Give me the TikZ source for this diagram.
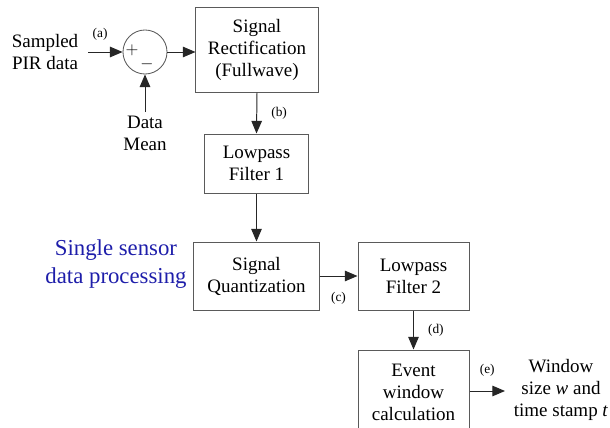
\documentclass[tikz,border=0pt]{standalone}
\usepackage{fontspec}
\setmainfont{Liberation Serif}
\usepackage{xcolor}
\usepackage{tikz}
\usetikzlibrary{arrows.meta}

\definecolor{boxgray}{HTML}{5A5A5A}
\definecolor{titleblue}{HTML}{1E1EAA}

\begin{document}
\begin{tikzpicture}[x=0.025cm, y=-0.025cm,
        block/.style={draw=boxgray, line width=0.7pt, align=center, inner sep=0pt,
            font=\fontsize{13.5}{15.7}\selectfont},
        txt/.style={align=center, inner sep=0pt, font=\fontsize{13.5}{15.7}\selectfont},
        tag/.style={inner sep=0pt, font=\fontsize{9.5}{11}\selectfont},
        flow/.style={-{Triangle[length=9pt, width=7.5pt]}, line width=0.7pt, draw=black!85}]
    \useasboundingbox (0, 0) rectangle (610, 427);
    \clip (0, 0) rectangle (610, 427);

    \node[txt] (pir)  at ( 45,  52) {Sampled\\PIR data};
    \node[txt] (mean) at (145, 133) {Data\\Mean};
    \coordinate (pir-in)  at ( 88,  52);
    \coordinate (mean-in) at (145, 112);
    \node[draw=boxgray, line width=0.6pt, circle, minimum size=1.1cm, inner sep=0pt] (sum) at (145, 52) {};
    \node[inner sep=0pt, font=\fontsize{12}{12}\selectfont] (plus)  at (132, 50) {$+$};
    \node[inner sep=0pt, font=\fontsize{13}{13}\selectfont] (minus) at (147, 64) {$-$};

    \node[block, minimum width=3.05cm,  minimum height=2.1cm]   (rect)  at (257,   50)  {Signal\\Rectification\\(Fullwave)};
    \node[block, minimum width=2.575cm, minimum height=1.475cm] (lpf1)  at (256.5, 163.5) {Lowpass\\Filter 1};
    \node[block, minimum width=3.125cm, minimum height=1.7cm]   (quant) at (256.5, 276) {Signal\\Quantization};
    \node[block, minimum width=2.775cm, minimum height=1.7cm]   (lpf2)  at (413.5, 276) {Lowpass\\Filter 2};
    \node[block, minimum width=2.775cm, minimum height=2.1cm]   (event) at (413.5, 392) {Event\\window\\calculation};
    \node[txt] (result) at (561, 390) {Window\\size \textit{w} and\\time stamp \textit{t}};
    \coordinate (result-in) at (505, 391);

    \node[align=center, inner sep=0pt, text=titleblue, font=\fontsize{16.2}{20}\selectfont]
        (title) at (116, 264) {Single sensor\\data processing};

    % signal path
    \draw[flow] (pir-in) -- (sum.west)
        node[tag, pos=0.35, above=8pt] {(a)};
    \draw[flow] (mean-in) -- (sum.south);
    \draw[flow] (sum.east) -- (rect.west |- sum.east);
    \draw[flow] (rect.south) -- (lpf1.north)
        node[tag, midway, right=10pt] {(b)};
    \draw[flow] (lpf1.south) -- (quant.north);
    \draw[flow] (quant.east) -- (lpf2.west)
        node[tag, midway, below=11pt] {(c)};
    \draw[flow] (lpf2.south) -- (event.north)
        node[tag, midway, right=10pt] {(d)};
    \draw[flow] (event.east |- result-in) -- (result-in)
        node[tag, midway, above=10pt] {(e)};
\end{tikzpicture}
\end{document}
